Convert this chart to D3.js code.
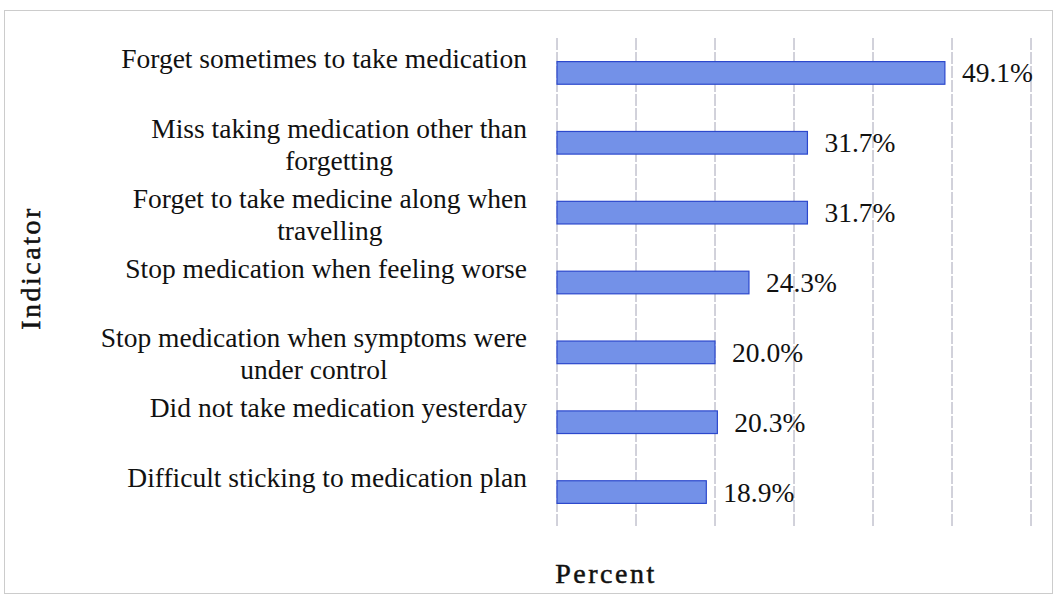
<!DOCTYPE html>
<html>
<head>
<meta charset="utf-8">
<script src="https://cdn.jsdelivr.net/npm/d3@7"></script>
<style>
  html, body { margin: 0; padding: 0; background: #fff; }
  svg { display: block; }
</style>
</head>
<body>
<svg id="chart" width="1057" height="601"></svg>
<script>
const categories = [
  ["Forget sometimes to take medication"],
  ["Miss taking medication other than", "forgetting"],
  ["Forget to take medicine along when", "travelling"],
  ["Stop medication when feeling worse"],
  ["Stop medication when symptoms were", "under control"],
  ["Did not take medication yesterday"],
  ["Difficult sticking to medication plan"]
];
const values = [49.1, 31.7, 31.7, 24.3, 20.0, 20.3, 18.9];
const gridTicks = [0, 10, 20, 30, 40, 50, 60];
const xTitle = "Percent";
const yTitle = "Indicator";

const svg = d3.select("#chart");
const font = "'Liberation Serif', 'Times New Roman', serif";

// frame
svg.append("rect").attr("x", 4.5).attr("y", 10.5).attr("width", 1048).attr("height", 583)
  .attr("fill", "none").attr("stroke", "#cccccc").attr("stroke-width", 1);

const keys = categories.map((c, i) => i);
const y = d3.scaleBand().domain(keys).range([38, 527]).paddingInner(0.676).paddingOuter(0.338);
const x = d3.scaleLinear().domain([0, 60]).range([557, 1031]);

// gridlines
svg.append("g").selectAll("line").data(gridTicks).join("line")
  .attr("x1", d => x(d)).attr("x2", d => x(d))
  .attr("y1", 38).attr("y2", 526)
  .attr("stroke", "#a4a4b6").attr("stroke-width", 1).attr("stroke-dasharray", "12,2");

// bars
svg.append("g").selectAll("rect").data(values).join("rect")
  .attr("x", x(0))
  .attr("y", (d, i) => y(i))
  .attr("width", d => x(d) - x(0))
  .attr("height", y.bandwidth())
  .attr("fill", "#7391e8")
  .attr("stroke", "#2c48cc")
  .attr("stroke-width", 1.2);

// value labels
svg.append("g").selectAll("text").data(values).join("text")
  .attr("x", d => x(d) + 17)
  .attr("y", (d, i) => y(i) + y.bandwidth() / 2 + 9.5)
  .attr("font-family", font).attr("font-size", 27.5).attr("fill", "#111")
  .text(d => d.toFixed(1) + "%");

// category labels: block right aligned, lines centered
const rightEdge = 527;
const labG = svg.append("g");
categories.forEach((lines, i) => {
  const cy = y(i) + y.bandwidth() / 2;
  const t = labG.append("text")
    .attr("font-family", font).attr("font-size", 27.5).attr("fill", "#111")
    .attr("text-anchor", "middle");
  const ts = lines.map((ln, j) => t.append("tspan").attr("y", cy - 5 + j * 32).text(ln));
  const w = d3.max(ts, s => s.node().getComputedTextLength());
  ts.forEach(s => s.attr("x", rightEdge - w / 2));
});

// axis titles
svg.append("text")
  .attr("x", 606).attr("y", 583)
  .attr("text-anchor", "middle")
  .attr("font-family", font).attr("font-size", 28)
  .attr("stroke", "#111").attr("stroke-width", 0.5)
  .attr("letter-spacing", 2.5).attr("fill", "#111")
  .text(xTitle);

svg.append("text")
  .attr("transform", "translate(40,268) rotate(-90)")
  .attr("text-anchor", "middle")
  .attr("font-family", font).attr("font-size", 28)
  .attr("stroke", "#111").attr("stroke-width", 0.5)
  .attr("letter-spacing", 2.5).attr("fill", "#111")
  .text(yTitle);
</script>
</body>
</html>
